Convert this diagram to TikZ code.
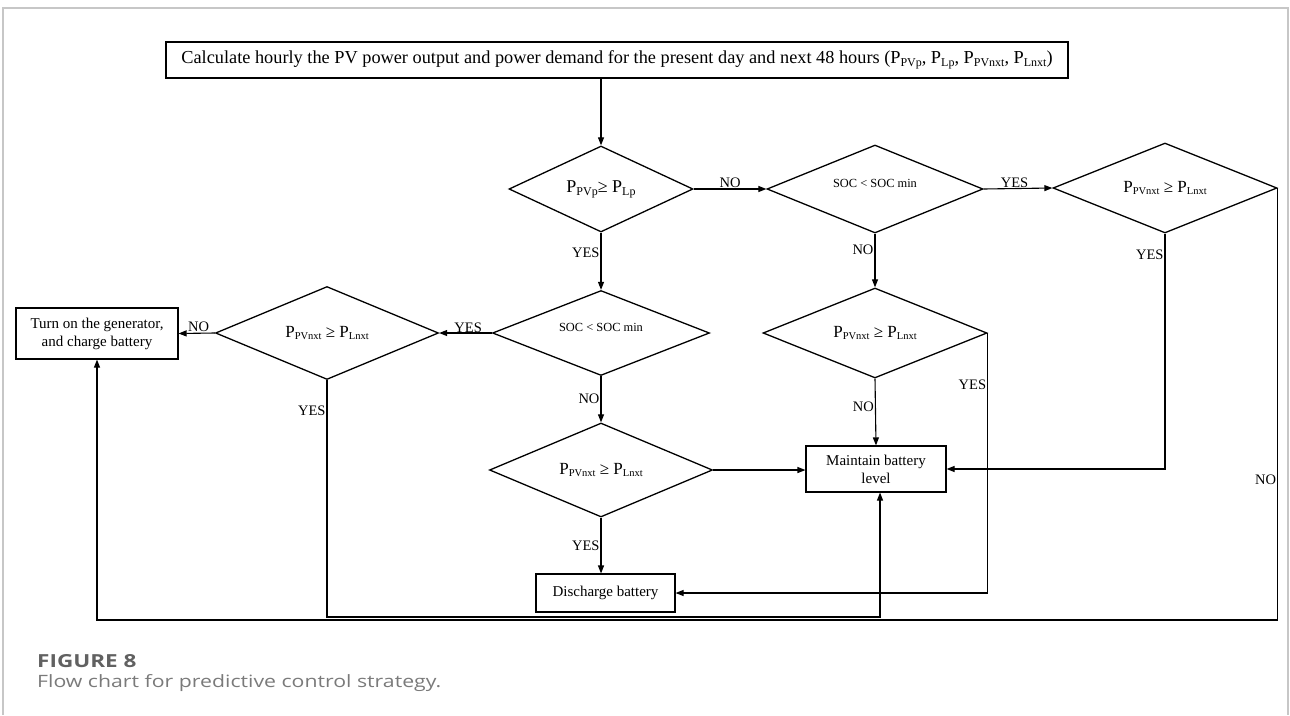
\documentclass[tikz,border=0pt]{standalone}
\usepackage{fontspec}
\setmainfont{Liberation Serif}
\newfontfamily\capfont[FakeStretch=1.25]{Open Sans}
\usetikzlibrary{shapes.geometric,arrows.meta,calc}

% power symbol with a lowered small subscript (optional subscript size)
\newcommand{\Sb}[2][10]{P\raisebox{-0.35ex}{\fontsize{#1}{#1}\selectfont #2}}

\begin{document}
\begin{tikzpicture}[x=1pt,y=-1pt,
  flow/.style={line width=1.1pt,-{Triangle[length=8pt,width=6pt]}},
  dec/.style={shape=diamond, draw, line width=1.3pt, inner sep=0pt,
    font=\fontsize{17}{17}\selectfont},
  soc/.style={font=\fontsize{12.4}{12.4}\selectfont, text depth=12pt},
  act/.style={draw, line width=1.1pt, align=center, inner sep=0pt,
    font=\fontsize{15}{18}\selectfont},
  lbl/.style={font=\fontsize{14.5}{14.5}\selectfont, inner sep=1pt},
  frame/.style={draw=black!22, line width=1.5pt},
]
\useasboundingbox (0,0) rectangle (1290,715);

% outer frame, open at the bottom
\draw[frame] (3,715) -- (3,8) -- (1288,8) -- (1288,715);

% process boxes
\node[act, minimum width=902pt, minimum height=36pt, font=\fontsize{18.3}{20}\selectfont] (calc) at (617,60)
  {Calculate hourly the PV power output and power demand for the present day and next 48 hours (\Sb[12]{PVp}, \Sb[12]{Lp}, \Sb[12]{PVnxt}, \Sb[12]{Lnxt})};
\node[act, minimum width=162pt, minimum height=51pt] (gen) at (97,333.5)
  {Turn on the generator,\\and charge battery};
\node[act, minimum width=140pt, minimum height=46pt] (mnt) at (876,469)
  {Maintain battery\\level};
\node[act, minimum width=139pt, minimum height=38pt] (dis) at (605.5,593)
  {Discharge battery};

% decisions
\node[dec, minimum width=184pt, minimum height=86pt, aspect=2.14, font=\fontsize{18}{18}\selectfont] (d1) at (601,189)
  {\Sb[12]{PVp}≥ \Sb[12]{Lp}};
\node[dec, minimum width=216pt, minimum height=88pt, aspect=2.45, soc] (d2) at (875,189)
  {SOC < SOC min};
\node[dec, minimum width=224pt, minimum height=90pt, aspect=2.49] (d3) at (1165,188)
  {\Sb[10.5]{PVnxt} ≥ \Sb[10.5]{Lnxt}};
\node[dec, minimum width=217pt, minimum height=85pt, aspect=2.55, soc] (d4) at (601,333)
  {SOC < SOC min};
\node[dec, minimum width=224pt, minimum height=90pt, aspect=2.49] (d5) at (875,333)
  {\Sb[10.5]{PVnxt} ≥ \Sb[10.5]{Lnxt}};
\node[dec, minimum width=223pt, minimum height=93pt, aspect=2.4] (d6) at (327,333)
  {\Sb[10.5]{PVnxt} ≥ \Sb[10.5]{Lnxt}};
\node[dec, minimum width=223pt, minimum height=94pt, aspect=2.37] (d7) at (601,470)
  {\Sb[10.5]{PVnxt} ≥ \Sb[10.5]{Lnxt}};

% routing levels along the bottom
\coordinate (outer) at (0,620);
\coordinate (inner) at (0,617);
\coordinate (mntin) at ($(mnt.south)+(4,0)$);

% connectors
\draw[flow] (d1.north |- calc.south) -- (d1.north);
\draw[flow] (d1.east) -- node[lbl, anchor=base, yshift=1.5pt] {NO} (d2.west);
\draw[flow] (d2.east) -- node[lbl, anchor=base, yshift=1pt, pos=0.45] {YES} (d3.west);
\draw[flow] (d1.south) -- node[lbl, anchor=east, pos=0.36] {YES} (d4.north);
\draw[flow] (d2.south) -- node[lbl, anchor=east, pos=0.3] {NO} (d5.north);
\draw[flow] (d3.south) -- node[lbl, anchor=east, pos=0.09] {YES} (d3.south |- mnt.east) -- (mnt.east);
\draw[flow] (d3.east) -- node[lbl, anchor=east, pos=0.676] {NO} (d3.east |- outer) -| (gen.south);
\draw[flow] (d4.west) -- node[lbl, anchor=base, yshift=1pt, pos=0.45] {YES} (d6.east);
\draw[flow] (d6.west) -- node[lbl, anchor=base, yshift=1.5pt, pos=0.45] {NO} (gen.east);
\draw[flow] (d4.south) -- node[lbl, anchor=east] {NO} (d7.north);
\draw[flow] (d5.south) -- node[lbl, anchor=east, pos=0.42] {NO} (mnt.north);
\draw[flow] (d5.east) -- node[lbl, anchor=east, pos=0.2] {YES} (d5.east |- dis.east) -- (dis.east);
\draw[flow] (d6.south) -- node[lbl, anchor=east, pos=0.13] {YES} (d6.south |- inner) -| (mntin);
\draw[flow] (d7.east) -- (d7.east -| mnt.west);
\draw[flow] (d7.south) -- node[lbl, anchor=east] {YES} (d7.south |- dis.north);

% caption
\node[anchor=west, inner sep=0pt, text=black!62, font=\capfont\bfseries\fontsize{18}{18}\selectfont] (fig) at (37,661) {FIGURE 8};
\node[anchor=base west, inner sep=0pt, text=black!52, font=\capfont\fontsize{17}{17}\selectfont] (cap) at (37,687) {Flow chart for predictive control strategy.};
\end{tikzpicture}
\end{document}
